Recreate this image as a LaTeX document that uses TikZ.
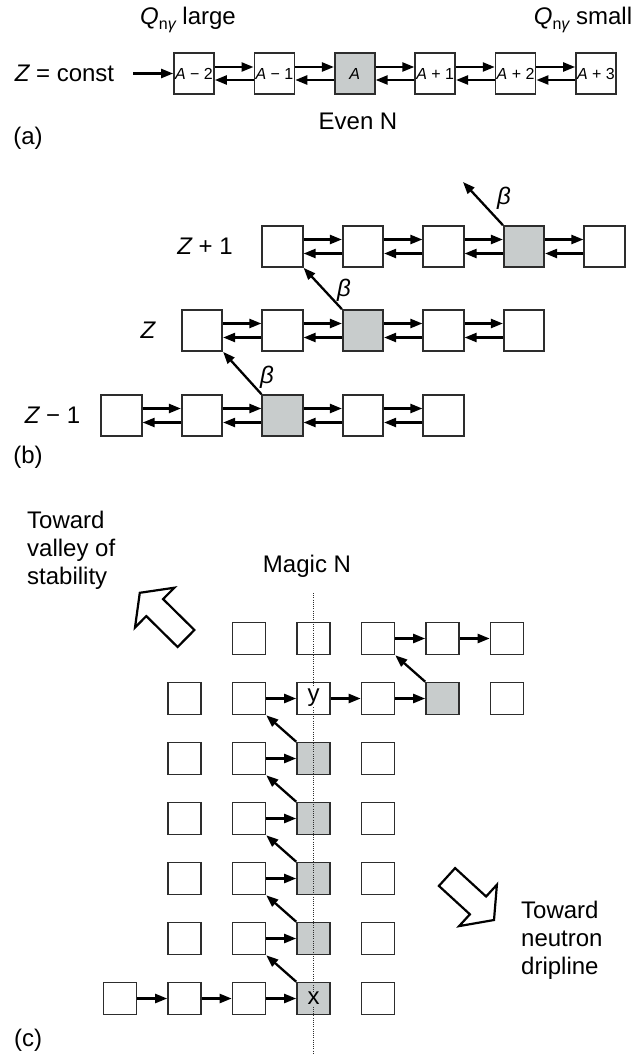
\documentclass[tikz,border=0pt]{standalone}
\usepackage{fontspec}
\setmainfont{Liberation Sans}
\usetikzlibrary{arrows.meta}
\definecolor{boxgray}{RGB}{200,204,204}
\definecolor{edgec}{RGB}{45,45,45}
\tikzset{
  abox/.style={draw=edgec, line width=1.7pt, fill=white, minimum width=40pt, minimum height=41pt, inner sep=0pt, font=\fontsize{16}{16}\selectfont},
  bbox/.style={draw=edgec, line width=1.7pt, fill=white, minimum width=40.5pt, minimum height=41pt, inner sep=0pt},
  cbox/.style={draw=edgec, line width=1.6pt, fill=white, minimum width=33pt, minimum height=32pt, inner sep=0pt},
  grayed/.style={fill=boxgray},
  arr/.style={line width=2.3pt, -{Triangle[length=12pt,width=9pt]}},
  txt/.style={inner sep=0pt},
  betalab/.style={inner sep=0pt, font=\fontsize{24}{24}\selectfont\itshape},
  hollow/.style={draw=black, line width=2.2pt, fill=white, line join=miter},
  magicline/.style={draw=edgec, line width=1.2pt, dash pattern=on 1pt off 1.2pt}
}
\begin{document}
\begin{tikzpicture}[x=1pt,y=-1pt, font=\fontsize{24}{28}\selectfont]
\useasboundingbox (0,0) rectangle (636,1060);
% ---------------- (a)
\node[txt] (qlarge) at (188,20) {{\itshape Q}\raisebox{-5pt}{\fontsize{16}{16}\selectfont n{\itshape γ}} large};
\node[txt] (qsmall) at (583,20) {{\itshape Q}\raisebox{-5pt}{\fontsize{16}{16}\selectfont n{\itshape γ}} small};
\node[txt] (zconst) at (64.5,73.5) {{\itshape Z} = const};
\coordinate (zin) at (133,73.5);
\node[abox] (a1) at (194,73.5) {{\itshape A} − 2};
\node[abox] (a2) at (274.4,73.5) {{\itshape A} − 1};
\node[abox,grayed] (a3) at (354.8,73.5) {{\itshape A}};
\node[abox] (a4) at (435.2,73.5) {{\itshape A} + 1};
\node[abox] (a5) at (515.6,73.5) {{\itshape A} + 2};
\node[abox] (a6) at (596,73.5) {{\itshape A} + 3};
\draw[arr] (zin) -- (a1.west);
\foreach \i/\j in {1/2,2/3,3/4,4/5,5/6}{
  \draw[arr] ([yshift=6.5pt]a\i.east) -- ([yshift=6.5pt]a\j.west);
  \draw[arr] ([yshift=-6.5pt]a\j.west) -- ([yshift=-6.5pt]a\i.east);
}
\node[txt] (evenn) at (358,121) {Even N};
\node[txt] (labela) at (28,138) {(a)};
% ---------------- (b)
\foreach \c in {1,2,4,5}{ \node[bbox] (bL\c) at ({121.5+80.5*(\c-1)},415.5) {}; }
\node[bbox,grayed] (bL3) at ({121.5+80.5*2},415.5) {};
\foreach \c in {2,3,5,6}{ \node[bbox] (bM\c) at ({121.5+80.5*(\c-1)},330.5) {}; }
\node[bbox,grayed] (bM4) at ({121.5+80.5*3},330.5) {};
\foreach \c in {3,4,5,7}{ \node[bbox] (bU\c) at ({121.5+80.5*(\c-1)},246.5) {}; }
\node[bbox,grayed] (bU6) at ({121.5+80.5*5},246.5) {};
\foreach \i/\j in {1/2,2/3,3/4,4/5}{
  \draw[arr] ([yshift=7pt]bL\i.east) -- ([yshift=7pt]bL\j.west);
  \draw[arr] ([yshift=-7pt]bL\j.west) -- ([yshift=-7pt]bL\i.east);
}
\foreach \i/\j in {2/3,3/4,4/5,5/6}{
  \draw[arr] ([yshift=7pt]bM\i.east) -- ([yshift=7pt]bM\j.west);
  \draw[arr] ([yshift=-7pt]bM\j.west) -- ([yshift=-7pt]bM\i.east);
}
\foreach \i/\j in {3/4,4/5,5/6,6/7}{
  \draw[arr] ([yshift=7pt]bU\i.east) -- ([yshift=7pt]bU\j.west);
  \draw[arr] ([yshift=-7pt]bU\j.west) -- ([yshift=-7pt]bU\i.east);
}
\draw[arr] (bL3.north west) -- (bM2.south east);
\draw[arr] (bM4.north west) -- (bU3.south east);
\coordinate (btop) at (463,182);
\draw[arr] (bU6.north west) -- (btop);
\node[betalab] (beta1) at (267,377) {β};
\node[betalab] (beta2) at (344,290) {β};
\node[betalab] (beta3) at (504,198) {β};
\node[txt] (zp1) at (205,246.5) {{\itshape Z} + 1};
\node[txt] (z0) at (148,330.5) {{\itshape Z}};
\node[txt] (zm1) at (52.5,415.5) {{\itshape Z} − 1};
\node[txt] (labelb) at (28,457) {(b)};
% ---------------- (c)
\foreach \c in {2,3,4,5,6}{ \node[cbox] (c1-\c) at ({120+64.5*\c},638.5) {}; }
\foreach \c in {1,2,3,4,6}{ \node[cbox] (c2-\c) at ({120+64.5*\c},698.5) {}; }
\node[cbox,grayed] (c2-5) at ({120+64.5*5},698.5) {};
\foreach \r/\y in {3/758.5,4/818.5,5/878.5,6/938.5}{
  \foreach \c in {1,2,4}{ \node[cbox] (c\r-\c) at ({120+64.5*\c},\y) {}; }
  \node[cbox,grayed] (c\r-3) at ({120+64.5*3},\y) {};
}
\foreach \c in {0,1,2,4}{ \node[cbox] (c7-\c) at ({120+64.5*\c},998.5) {}; }
\node[cbox,grayed] (c7-3) at ({120+64.5*3},998.5) {};
\coordinate (mtop) at (313.5,593);
\coordinate (mbot) at (313.5,1053);
\draw[magicline] (mtop) -- (mbot);
\node[inner sep=0.5pt, fill=white] (ylab) at ([yshift=1pt]c2-3.center) {y};
\node[inner sep=0.5pt, fill=boxgray] (xlab) at (c7-3.center) {x};
\node[txt] (magic) at (307,566) {Magic N};
\draw[arr] (c1-4.east) -- (c1-5.west);
\draw[arr] (c1-5.east) -- (c1-6.west);
\draw[arr] (c2-2.east) -- (c2-3.west);
\draw[arr] (c2-3.east) -- (c2-4.west);
\draw[arr] (c2-4.east) -- (c2-5.west);
\draw[arr] (c2-5.north west) -- (c1-4.south east);
\foreach \r/\p in {3/2,4/3,5/4,6/5}{
  \draw[arr] (c\r-2.east) -- (c\r-3.west);
  \draw[arr] (c\r-3.north west) -- (c\p-2.south east);
}
\draw[arr] (c7-0.east) -- (c7-1.west);
\draw[arr] (c7-1.east) -- (c7-2.west);
\draw[arr] (c7-2.east) -- (c7-3.west);
\draw[arr] (c7-3.north west) -- (c6-2.south east);
\draw[hollow] (194.4,630) -- (163.1,599.1) -- (174.4,587.7) -- (139.8,592.8) -- (135.0,627.5) -- (146.3,616.1) -- (177.6,647) -- cycle;
\draw[hollow] (455.1,868.1) -- (486.1,896.5) -- (496.9,884.7) -- (494,920) -- (459.1,926.1) -- (469.9,914.3) -- (438.9,885.9) -- cycle;
\node[txt, align=left, anchor=west] (valley) at (27,550) {Toward\\valley of\\stability};
\node[txt, align=left, anchor=west] (drip) at (521,940) {Toward\\neutron\\dripline};
\node[txt] (labelc) at (28,1040) {(c)};
\end{tikzpicture}
\end{document}
